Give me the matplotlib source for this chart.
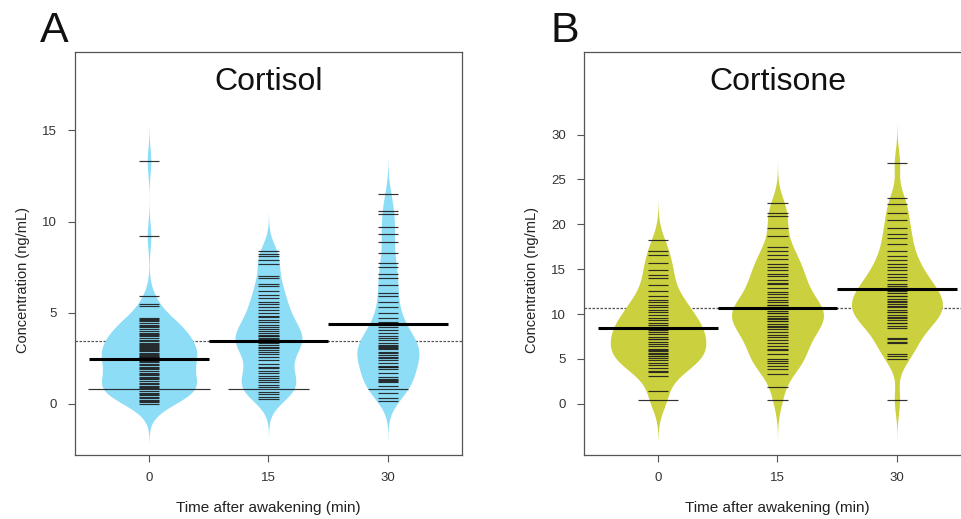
import numpy as np
import matplotlib
matplotlib.use("Agg")
import matplotlib.pyplot as plt

plt.rcParams['font.family'] = ['Liberation Sans', 'DejaVu Sans']

# groups on the x axis
times = ['0', '15', '30']

# beanline values (ng/mL), exact duplicates repeated
cortisol_0 = [0.0, 0.1, 0.15, 0.2, 0.3, 0.4, 0.5, 0.55, 0.6, 0.7, 0.8, 0.8, 0.8, 0.8, 0.8,
              0.8, 0.9, 0.95, 1.0, 1.1, 1.15, 1.25, 1.35, 1.45, 1.5, 1.6, 1.65, 1.7, 1.8,
              1.9, 1.95, 2.05, 2.15, 2.2, 2.3, 2.35, 2.4, 2.5, 2.55, 2.6, 2.65, 2.7, 2.75,
              2.8, 2.9, 2.95, 3.0, 3.05, 3.1, 3.2, 3.25, 3.3, 3.35, 3.45, 3.5, 3.6, 3.7,
              3.8, 3.85, 3.9, 4.0, 4.1, 4.2, 4.25, 4.35, 4.45, 4.55, 4.6, 4.65, 4.7, 5.35,
              5.5, 5.9, 9.2, 13.3]
cortisol_15 = [0.25, 0.4, 0.55, 0.65, 0.8, 0.8, 0.8, 0.8, 0.95, 1.05, 1.2, 1.3, 1.45, 1.55,
               1.7, 1.8, 1.95, 2.05, 2.2, 2.4, 2.6, 2.75, 2.85, 2.95, 3.05, 3.15, 3.25, 3.35,
               3.45, 3.5, 3.55, 3.6, 3.7, 3.75, 3.8, 3.9, 4.0, 4.1, 4.2, 4.35, 4.5, 4.6,
               4.75, 4.85, 5.0, 5.15, 5.3, 5.5, 5.6, 5.8, 6.0, 6.2, 6.45, 6.6, 6.9, 7.0,
               7.7, 7.9, 8.1, 8.2, 8.4]
cortisol_30 = [0.15, 0.3, 0.58, 0.8, 0.8, 1.0, 1.2, 1.25, 1.3, 1.35, 1.5, 1.7, 1.9, 2.0,
               2.05, 2.1, 2.25, 2.4, 2.5, 2.55, 2.7, 2.8, 2.85, 3.0, 3.05, 3.1, 3.2, 3.25,
               3.35, 3.5, 3.6, 3.75, 3.9, 4.05, 4.2, 4.35, 4.5, 4.7, 5.0, 5.3, 5.6, 5.9,
               6.1, 6.5, 6.9, 7.1, 7.5, 7.75, 8.3, 8.9, 9.3, 9.7, 10.4, 10.6, 11.5]

cortisone_0 = [0.4, 0.4, 1.4, 3.1, 3.5, 3.7, 4.0, 4.3, 4.6, 4.9, 5.1, 5.3, 5.35, 5.5, 5.7,
               5.9, 5.95, 6.1, 6.4, 6.7, 6.9, 7.2, 7.25, 7.5, 7.8, 8.0, 8.2, 8.4, 8.45, 8.6,
               8.8, 9.0, 9.3, 9.6, 9.9, 10.2, 10.5, 10.8, 11.0, 11.3, 11.6, 12.0, 12.6,
               13.2, 14.0, 14.4, 14.9, 15.7, 16.6, 17.0, 18.3]
cortisone_15 = [0.4, 1.85, 3.35, 3.9, 4.2, 4.5, 4.8, 5.0, 5.5, 6.0, 6.1, 6.5, 6.8, 7.1, 7.4,
                7.7, 8.0, 8.3, 8.6, 8.65, 8.9, 9.2, 9.25, 9.5, 9.55, 9.8, 10.1, 10.15, 10.4,
                10.7, 10.75, 11.0, 11.05, 11.3, 11.6, 11.9, 12.2, 12.5, 12.9, 13.3, 13.5,
                13.8, 14.2, 14.5, 14.9, 15.3, 15.6, 16.1, 16.6, 17.0, 17.5, 18.65, 19.6,
                20.9, 21.3, 22.4]
cortisone_30 = [0.45, 5.0, 5.3, 5.6, 6.8, 6.9, 7.2, 7.3, 8.4, 8.7, 9.0, 9.05, 9.3, 9.6,
                9.65, 9.9, 10.2, 10.25, 10.5, 10.8, 10.85, 11.1, 11.4, 11.45, 11.7, 12.0,
                12.05, 12.3, 12.6, 12.9, 12.95, 13.1, 13.4, 13.8, 14.1, 14.5, 14.9, 15.2,
                15.6, 16.0, 16.5, 17.0, 17.8, 18.5, 18.9, 19.6, 20.5, 21.3, 22.3, 22.9,
                26.8]

# group means and overall mean
cortisol_means = [2.46, 3.46, 4.41]
cortisol_overall = 3.46
cortisone_means = [8.5, 10.67, 12.78]
cortisone_overall = 10.67


def beanplot(ax, groups, means, overall, color, bw, ylim, yticks):
    pos = np.arange(1, len(groups) + 1)
    # overall mean, dotted, behind the beans
    ax.axhline(overall, color='#555555', lw=0.9, ls=(0, (2, 1.2)), zorder=1)

    # gaussian kde per bean (weighted by group size), widest bean is 0.8 wide
    dens = []
    for g in groups:
        g = np.asarray(g)
        y = np.linspace(g.min() - 3 * bw, g.max() + 3 * bw, 400)
        d = np.exp(-0.5 * ((y[:, None] - g[None, :]) / bw) ** 2).sum(axis=1)
        d = d / (bw * np.sqrt(2 * np.pi))
        dens.append((y, d))
    scale = 0.4 / max(d.max() for y, d in dens)

    for p, (y, d) in zip(pos, dens):
        ax.fill_betweenx(y, p - d * scale, p + d * scale, color=color, lw=0, zorder=2)

    # beanlines: length grows with number of identical observations
    for p, g in zip(pos, groups):
        vals, counts = np.unique(g, return_counts=True)
        for v, c in zip(vals, counts):
            ax.plot([p - 0.085 * c, p + 0.085 * c], [v, v], color='#1c1c1c', lw=0.85,
                    alpha=0.9, zorder=3, solid_capstyle='butt')

    # group means
    for p, m in zip(pos, means):
        ax.plot([p - 0.5, p + 0.5], [m, m], color='black', lw=2.2, zorder=4,
                solid_capstyle='butt')

    ax.set_xlim(0.38, 3.62)
    ax.set_ylim(*ylim)
    ax.set_xticks(pos)
    ax.set_xticklabels(times)
    ax.set_yticks(yticks)
    for s in ax.spines.values():
        s.set_color('#555555')
        s.set_linewidth(0.9)
    ax.tick_params(direction='out', length=5, width=0.8, color='#555555',
                   labelsize=9.5, labelcolor='#333333')
    ax.tick_params(axis='y', pad=8)
    ax.tick_params(axis='x', pad=7)
    ax.set_xlabel('Time after awakening (min)', fontsize=11, color='#222222')
    ax.set_ylabel('Concentration (ng/mL)', fontsize=10.5, color='#222222')
    ax.xaxis.set_label_coords(0.5, -0.115)
    ax.yaxis.set_label_coords(-0.115, 0.434)


fig = plt.figure(figsize=(9.61, 5.19), dpi=100)
ax1 = fig.add_axes([0.078, 0.1233, 0.4027, 0.7765])
ax2 = fig.add_axes([0.6077, 0.1233, 0.4027, 0.7765])

beanplot(ax1, [cortisol_0, cortisol_15, cortisol_30], cortisol_means, cortisol_overall,
         '#8EDDF6', 0.7, (-2.8, 19.3), [0, 5, 10, 15])
beanplot(ax2, [cortisone_0, cortisone_15, cortisone_30], cortisone_means, cortisone_overall,
         '#CBD03E', 1.5, (-5.7, 39.2), [0, 5, 10, 15, 20, 25, 30])

ax1.text(0.5, 0.925, 'Cortisol', transform=ax1.transAxes, ha='center', va='center',
         fontsize=23, color='#111111')
ax2.text(0.5, 0.925, 'Cortisone', transform=ax2.transAxes, ha='center', va='center',
         fontsize=23, color='#111111')

fig.text(54 / 961, 1 - 31 / 519, 'A', fontsize=31, ha='center', va='center', color='#111111')
fig.text(565 / 961, 1 - 31 / 519, 'B', fontsize=31, ha='center', va='center', color='#111111')

fig.savefig('out.png', dpi=100)
